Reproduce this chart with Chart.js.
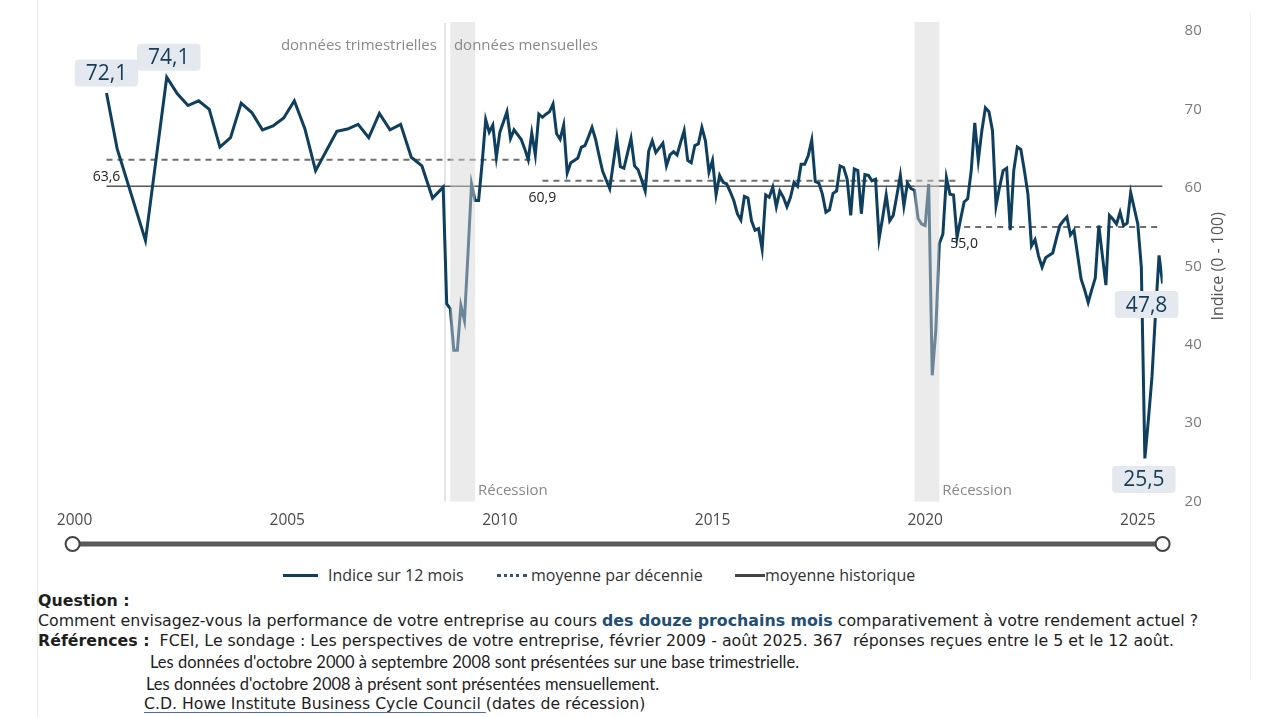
<!DOCTYPE html>
<html lang="fr">
<head>
<meta charset="utf-8">
<title>Indice sur 12 mois</title>
<script src="https://cdn.jsdelivr.net/npm/chart.js@4.4.1/dist/chart.umd.min.js"></script>
<style>
  html, body { margin: 0; padding: 0; background: #fff; }
  body { width: 1270px; height: 717px; position: relative; overflow: hidden; font-family: "Open Sans", sans-serif; }
  #wrap { position: absolute; left: 0; top: 0; width: 1270px; height: 560px; }
  .edge { position: absolute; background: #ececec; }
  #legend { position: absolute; left: 0; top: 565px; width: 1270px; height: 20px; font: 16px "Open Sans"; color: #333; }
  .lg-text { position: absolute; top: 0; line-height: 20px; white-space: nowrap; }
  .lg-swatch { position: absolute; top: 9px; height: 0; }
  .note { position: absolute; white-space: nowrap; color: #1e1e1e; line-height: 20px; }
  .q { font: 15.8px "DejaVu Sans"; }
  .q2 { font: 15.7px "DejaVu Sans"; }
  .s { font: 16.5px "Lato"; }
  .blue { color: #1f4e79; }
  .link { text-decoration: underline; text-decoration-color: #4a6fa5; text-underline-offset: 3px; }
</style>
</head>
<body>
<div class="edge" style="left:37px; top:0; width:1px; height:717px;"></div>
<div class="edge" style="left:1250px; top:12px; width:1px; height:668px; background:#f2f2f2;"></div>
<div id="wrap"><canvas id="myChart" width="1270" height="560"></canvas></div>
<div id="legend"></div>

<div class="note q" style="left:38px; top:591px;"><b>Question :</b></div>
<div class="note q" style="left:38px; top:611px;">Comment envisagez-vous la performance de votre entreprise au cours <b class="blue">des douze prochains mois</b> comparativement à votre rendement actuel ?</div>
<div class="note q" style="left:38px; top:631px;"><b>Références :</b>&nbsp; FCEI, Le sondage : Les perspectives de votre entreprise, février 2009 - août 2025. 367&nbsp; réponses reçues entre le 5 et le 12 août.</div>
<div class="note s" style="left:150px; top:652px;">Les données d'octobre 2000 à septembre 2008 sont présentées sur une base trimestrielle.</div>
<div class="note s" style="left:146px; top:674px;">Les données d'octobre 2008 à présent sont présentées mensuellement.</div>
<div class="note q2" style="left:144px; top:694px;"><span class="link">C.D. Howe Institute Business Cycle Council </span>(dates de récession)</div>

<script>
// Données trimestrielles (oct. 2000 - sept. 2008)
const quarterDates = [
  "2000-10", "2001-01", "2001-09", "2001-12", "2002-03", "2002-06", "2002-09", "2002-12",
  "2003-03", "2003-06", "2003-09", "2003-12", "2004-03", "2004-06", "2004-09", "2004-12",
  "2005-03", "2005-06", "2005-09", "2005-12", "2006-03", "2006-06", "2006-09", "2006-12",
  "2007-03", "2007-06", "2007-09", "2007-12", "2008-03", "2008-06", "2008-09"
];
const quarterValues = [
  72.1, 65.0, 53.3, 63.7, 74.1, 72.0, 70.5, 71.1,
  70.0, 65.2, 66.4, 70.8, 69.6, 67.4, 67.9, 68.9,
  71.1, 67.5, 62.2, 64.7, 67.2, 67.5, 68.1, 66.4,
  69.5, 67.4, 68.1, 63.9, 62.8, 58.7, 60.1
];

// Données mensuelles (oct. 2008 - août 2025)
const monthStart = "2008-10";
const monthValues = [
  45.2, 44.6, 39.3,                                                             // 2008
  39.3, 45.0, 43.1, 51.6, 60.5, 58.4, 58.4, 63.2, 68.7, 67.1, 68.0, 63.9,       // 2009
  67.1, 68.4, 69.7, 66.3, 67.4, 66.8, 66.2, 65.0, 63.6, 67.0, 64.2, 69.4,       // 2010
  69.0, 69.4, 69.7, 70.7, 66.9, 66.2, 68.0, 61.9, 63.2, 63.5, 63.8, 65.2,       // 2011
  65.4, 66.5, 67.7, 66.2, 64.1, 62.1, 61.0, 59.9, 63.1, 66.3, 62.7, 62.5,       // 2012
  64.4, 66.3, 62.8, 62.3, 61.0, 59.6, 64.7, 66.0, 64.5, 65.1, 65.7, 62.8,       // 2013
  64.2, 64.6, 64.2, 65.8, 67.3, 63.5, 63.2, 65.4, 65.6, 67.7, 66.0, 62.0,       // 2014
  63.5, 59.1, 61.6, 60.7, 60.5, 59.5, 58.4, 56.7, 55.9, 58.9, 58.7, 55.8,       // 2015
  54.6, 54.8, 52.2, 59.1, 58.8, 60.1, 57.6, 59.6, 58.8, 57.6, 58.8, 60.7,       // 2016
  60.2, 63.0, 63.0, 64.1, 66.1, 60.8, 60.6, 59.2, 56.9, 57.2, 59.3, 59.6,       // 2017
  62.8, 62.6, 61.1, 56.5, 62.4, 62.2, 56.7, 61.7, 61.6, 60.9, 61.1, 53.5,       // 2018
  56.2, 59.1, 55.8, 56.5, 59.0, 61.6, 57.7, 60.6, 59.9, 59.7, 56.1, 55.4,       // 2019
  55.2, 60.5, 36.1, 41.8, 52.9, 54.1, 61.3, 59.2, 59.1, 53.7, 56.0, 58.2,       // 2020
  58.6, 62.2, 68.3, 63.5, 67.3, 70.2, 69.7, 67.3, 57.7, 60.1, 62.2, 62.5,       // 2021
  54.6, 62.2, 65.2, 64.9, 62.2, 59.2, 52.6, 53.4, 51.3, 49.9, 51.1, 51.4,       // 2022
  51.7, 53.5, 55.2, 55.8, 56.3, 54.0, 54.6, 51.5, 48.4, 47.0, 45.4, 47.0,       // 2023
  48.5, 55.2, 51.4, 47.6, 56.5, 56.0, 55.4, 56.9, 55.2, 55.5, 59.4, 57.4,       // 2024
  55.4, 49.9, 25.5, 30.5, 35.9, 44.0, 51.4, 47.8                                // 2025
];

// Moyennes
const decadeStarts = ["2000-10", "2011-01", "2020-12"];
const decadeEnds = ["2010-10", "2020-10", "2025-07"];
const decadeAvgs = [63.6, 60.9, 55.0];
const histAvg = 60.2;

// Récessions (C.D. Howe)
const recessionStarts = ["2008-11", "2019-10"];
const recessionEnds = ["2009-06", "2020-05"];

const xTicks = [2000, 2005, 2010, 2015, 2020, 2025];

const navy = "#0f3f5f";

function toYear(d) {
  const [y, m] = d.split("-").map(Number);
  return y + (m - 1) / 12;
}
function addMonths(d, n) {
  const [y, m] = d.split("-").map(Number);
  const t = y * 12 + (m - 1) + n;
  return Math.floor(t / 12) + "-" + String((t % 12) + 1).padStart(2, "0");
}
function fr(v) {
  return v.toFixed(1).replace(".", ",");
}

const monthDates = monthValues.map((v, i) => addMonths(monthStart, i));
const allDates = quarterDates.concat(monthDates);
const allValues = quarterValues.concat(monthValues);
const mainPoints = allDates.map((d, i) => ({ x: toYear(d), y: allValues[i] }));

const decadePoints = [];
decadeAvgs.forEach((v, i) => {
  if (i > 0) decadePoints.push({ x: (toYear(decadeEnds[i - 1]) + toYear(decadeStarts[i])) / 2, y: null });
  decadePoints.push({ x: toYear(decadeStarts[i]), y: v });
  decadePoints.push({ x: toYear(decadeEnds[i]), y: v });
});

const histPoints = [
  { x: toYear(allDates[0]), y: histAvg },
  { x: toYear(allDates[allDates.length - 1]), y: histAvg },
];

function badge(ctx, cx, cy, text) {
  ctx.font = "21px 'Open Sans'";
  const w = ctx.measureText(text).width + 22;
  const h = 27;
  ctx.fillStyle = "#e3e9ee";
  ctx.beginPath();
  ctx.roundRect(cx - w / 2, cy - h / 2, w, h, 4);
  ctx.fill();
  ctx.fillStyle = "#163b57";
  ctx.textAlign = "center";
  ctx.textBaseline = "middle";
  ctx.fillText(text, cx, cy + 1);
}

const decor = {
  id: "decor",
  beforeDatasetsDraw(chart) {
    const { ctx, chartArea: { top, bottom }, scales: { x } } = chart;
    const sx = (x.getPixelForValue(toYear(quarterDates[quarterDates.length - 1])) +
      x.getPixelForValue(toYear(monthStart))) / 2;
    ctx.save();
    ctx.strokeStyle = "#dddddd";
    ctx.lineWidth = 1.5;
    ctx.beginPath();
    ctx.moveTo(sx, top - 8);
    ctx.lineTo(sx, bottom);
    ctx.stroke();
    ctx.restore();
  },
  afterDatasetsDraw(chart) {
    const { ctx, chartArea: { top, bottom, left, right }, scales: { x, y } } = chart;
    ctx.save();

    // bandes de récession
    recessionStarts.forEach((s, i) => {
      const x1 = x.getPixelForValue(toYear(s));
      const x2 = x.getPixelForValue(toYear(recessionEnds[i]));
      ctx.fillStyle = "rgba(214,214,214,0.48)";
      ctx.fillRect(x1, top - 9, x2 - x1, bottom - top + 9);
      ctx.font = "15px 'Open Sans'";
      ctx.fillStyle = "#8a8a8a";
      ctx.textAlign = "left";
      ctx.textBaseline = "middle";
      ctx.fillText("Récession", x2 + 3, bottom - 11);
    });

    // trimestrielles / mensuelles
    const sx = (x.getPixelForValue(toYear(quarterDates[quarterDates.length - 1])) +
      x.getPixelForValue(toYear(monthStart))) / 2;
    ctx.font = "15px 'Open Sans'";
    ctx.fillStyle = "#8a8a8a";
    ctx.textBaseline = "middle";
    ctx.textAlign = "right";
    ctx.fillText("données trimestrielles", sx - 8, top + 15);
    ctx.textAlign = "left";
    ctx.fillText("données mensuelles", sx + 9, top + 15);

    // libellés des moyennes par décennie
    ctx.font = "14px 'Open Sans'";
    ctx.fillStyle = "#222";
    ctx.textAlign = "center";
    decadeAvgs.forEach((v, i) => {
      ctx.fillText(fr(v), x.getPixelForValue(toYear(decadeStarts[i])), y.getPixelForValue(v) + 17);
    });

    // étiquettes de valeurs
    const first = mainPoints[0];
    const last = mainPoints[mainPoints.length - 1];
    let maxP = first, minP = first;
    mainPoints.forEach(p => {
      if (p.y > maxP.y) maxP = p;
      if (p.y < minP.y) minP = p;
    });
    badge(ctx, x.getPixelForValue(first.x), y.getPixelForValue(first.y) - 20, fr(first.y));
    badge(ctx, x.getPixelForValue(maxP.x) + 2, y.getPixelForValue(maxP.y) - 20, fr(maxP.y));
    badge(ctx, x.getPixelForValue(minP.x) - 1, y.getPixelForValue(minP.y) + 21, fr(minP.y));
    badge(ctx, x.getPixelForValue(last.x) - 16, y.getPixelForValue(last.y) + 21, fr(last.y));

    // titre de l'axe Y
    ctx.save();
    ctx.translate(1218, (top + bottom) / 2);
    ctx.rotate(-Math.PI / 2);
    ctx.font = "16px 'Open Sans'";
    ctx.fillStyle = "#555";
    ctx.textAlign = "center";
    ctx.textBaseline = "middle";
    ctx.fillText("Indice (0 - 100)", 0, 0);
    ctx.restore();

    // curseur de plage
    const sy = 544;
    ctx.strokeStyle = "#595959";
    ctx.lineWidth = 5;
    ctx.beginPath();
    ctx.moveTo(left - 2, sy);
    ctx.lineTo(right, sy);
    ctx.stroke();
    [left - 2, right].forEach(cx => {
      ctx.beginPath();
      ctx.arc(cx, sy, 7, 0, Math.PI * 2);
      ctx.fillStyle = "#fff";
      ctx.fill();
      ctx.lineWidth = 2;
      ctx.strokeStyle = "#444";
      ctx.stroke();
    });

    ctx.restore();
  },
};

const myChart = new Chart(document.getElementById("myChart"), {
  type: "line",
  data: {
    datasets: [
      {
        label: "Indice sur 12 mois",
        data: mainPoints,
        borderColor: navy,
        borderWidth: 3,
        pointRadius: 0,
        tension: 0,
        order: 0,
      },
      {
        label: "moyenne par décennie",
        data: decadePoints,
        borderColor: "#6e6e6e",
        borderWidth: 2,
        borderDash: [6, 5],
        pointRadius: 0,
        spanGaps: false,
        order: 1,
      },
      {
        label: "moyenne historique",
        data: histPoints,
        borderColor: "#555",
        borderWidth: 1.5,
        pointRadius: 0,
        order: 2,
      },
    ],
  },
  options: {
    responsive: false,
    animation: false,
    devicePixelRatio: 1,
    layout: { padding: { left: 74.6, top: 30, right: 0, bottom: 28.4 } },
    plugins: {
      legend: { display: false },
      tooltip: { enabled: false },
    },
    scales: {
      x: {
        type: "linear",
        min: 2000,
        max: toYear(allDates[allDates.length - 1]),
        grid: { display: false, drawTicks: false },
        border: { display: false },
        afterBuildTicks: (scale) => { scale.ticks = xTicks.map(v => ({ value: v })); },
        afterFit: (scale) => { scale.height = 30; },
        ticks: {
          padding: 10,
          maxRotation: 0,
          color: "#4a4a4a",
          font: { family: "Open Sans", size: 15.5 },
          callback: (v) => String(v),
        },
      },
      y: {
        position: "right",
        min: 20,
        max: 80,
        grid: { display: false, drawTicks: false },
        border: { display: false },
        afterFit: (scale) => { scale.width = 107.4; },
        ticks: {
          stepSize: 10,
          padding: 22,
          color: "#7a7a7a",
          font: { family: "Open Sans", size: 15 },
        },
      },
    },
  },
  plugins: [decor],
});

// Légende
const legendLayout = [
  { swatchX: 283, swatchW: 35, textX: 328, style: "3px solid " + navy },
  { swatchX: 497, swatchW: 30, textX: 531, style: "3px dotted #2e5573" },
  { swatchX: 735, swatchW: 30, textX: 765, style: "3px solid #444" },
];
const legendEl = document.getElementById("legend");
myChart.data.datasets.forEach((ds, i) => {
  const l = legendLayout[i];
  const sw = document.createElement("div");
  sw.className = "lg-swatch";
  sw.style.left = l.swatchX + "px";
  sw.style.width = l.swatchW + "px";
  sw.style.borderTop = l.style;
  legendEl.appendChild(sw);
  const tx = document.createElement("div");
  tx.className = "lg-text";
  tx.style.left = l.textX + "px";
  tx.textContent = ds.label;
  legendEl.appendChild(tx);
});
</script>
</body>
</html>
